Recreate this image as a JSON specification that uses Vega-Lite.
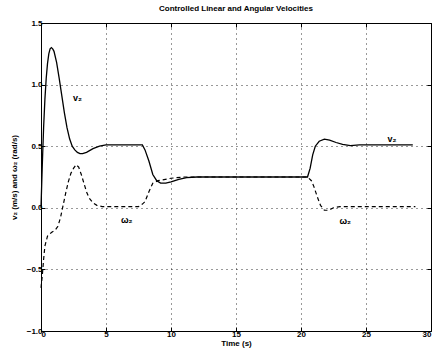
{
  "$schema": "https://vega.github.io/schema/vega-lite/v6.json",
  "width": 390,
  "height": 308,
  "autosize": {"type": "none"},
  "padding": {"left": 41, "top": 23, "right": 4, "bottom": 26},
  "background": "white",
  "title": {"text": "Controlled Linear and Angular Velocities", "fontSize": 8, "font": "Liberation Sans", "fontWeight": "bold", "color": "black", "offset": 6},
  "config": {
    "view": {"stroke": "black", "strokeWidth": 1},
    "axis": {"labelFont": "Liberation Sans", "labelFontSize": 8, "labelFontWeight": "bold", "labelColor": "black", "titleFont": "Liberation Sans", "titleFontSize": 8, "titleFontWeight": "bold", "titleColor": "black", "domain": false, "tickColor": "black", "tickSize": -4, "gridColor": "black", "gridDash": [1, 4], "gridOpacity": 0.8, "gridWidth": 1}
  },
  "resolve": {"axis": {"x": "independent", "y": "independent"}},
  "datasets": {
    "curves": [
      {"t": 0, "y": 0, "s": "v"}, {"t": 0.1, "y": 0.35, "s": "v"}, {"t": 0.2, "y": 0.65, "s": "v"}, {"t": 0.3, "y": 0.88, "s": "v"}, {"t": 0.4, "y": 1.05, "s": "v"}, {"t": 0.5, "y": 1.17, "s": "v"}, {"t": 0.6, "y": 1.25, "s": "v"}, {"t": 0.7, "y": 1.29, "s": "v"}, {"t": 0.8, "y": 1.3, "s": "v"}, {"t": 0.9, "y": 1.29, "s": "v"}, {"t": 1.0, "y": 1.27, "s": "v"}, {"t": 1.2, "y": 1.18, "s": "v"}, {"t": 1.4, "y": 1.05, "s": "v"}, {"t": 1.6, "y": 0.91, "s": "v"}, {"t": 1.8, "y": 0.77, "s": "v"}, {"t": 2.0, "y": 0.65, "s": "v"}, {"t": 2.2, "y": 0.56, "s": "v"}, {"t": 2.4, "y": 0.5, "s": "v"}, {"t": 2.6, "y": 0.47, "s": "v"}, {"t": 2.8, "y": 0.45, "s": "v"}, {"t": 3.0, "y": 0.44, "s": "v"}, {"t": 3.2, "y": 0.44, "s": "v"}, {"t": 3.5, "y": 0.45, "s": "v"}, {"t": 4.0, "y": 0.48, "s": "v"}, {"t": 4.5, "y": 0.5, "s": "v"}, {"t": 5, "y": 0.51, "s": "v"}, {"t": 6, "y": 0.51, "s": "v"}, {"t": 7, "y": 0.51, "s": "v"}, {"t": 7.8, "y": 0.51, "s": "v"}, {"t": 8.0, "y": 0.47, "s": "v"}, {"t": 8.3, "y": 0.38, "s": "v"}, {"t": 8.6, "y": 0.27, "s": "v"}, {"t": 8.9, "y": 0.22, "s": "v"}, {"t": 9.2, "y": 0.2, "s": "v"}, {"t": 9.6, "y": 0.2, "s": "v"}, {"t": 10, "y": 0.21, "s": "v"}, {"t": 10.6, "y": 0.23, "s": "v"}, {"t": 11.2, "y": 0.245, "s": "v"}, {"t": 12, "y": 0.25, "s": "v"}, {"t": 20.5, "y": 0.25, "s": "v"}, {"t": 20.7, "y": 0.32, "s": "v"}, {"t": 20.9, "y": 0.43, "s": "v"}, {"t": 21.1, "y": 0.5, "s": "v"}, {"t": 21.4, "y": 0.54, "s": "v"}, {"t": 21.8, "y": 0.557, "s": "v"}, {"t": 22.2, "y": 0.55, "s": "v"}, {"t": 22.7, "y": 0.53, "s": "v"}, {"t": 23.2, "y": 0.515, "s": "v"}, {"t": 23.8, "y": 0.505, "s": "v"}, {"t": 24.5, "y": 0.51, "s": "v"}, {"t": 28.6, "y": 0.51, "s": "v"},
      {"t": 0, "y": -0.65, "s": "w"}, {"t": 0.1, "y": -0.55, "s": "w"}, {"t": 0.2, "y": -0.42, "s": "w"}, {"t": 0.3, "y": -0.31, "s": "w"}, {"t": 0.5, "y": -0.23, "s": "w"}, {"t": 0.8, "y": -0.2, "s": "w"}, {"t": 1.1, "y": -0.18, "s": "w"}, {"t": 1.3, "y": -0.15, "s": "w"}, {"t": 1.5, "y": -0.08, "s": "w"}, {"t": 1.7, "y": 0.02, "s": "w"}, {"t": 1.9, "y": 0.12, "s": "w"}, {"t": 2.1, "y": 0.21, "s": "w"}, {"t": 2.3, "y": 0.28, "s": "w"}, {"t": 2.5, "y": 0.32, "s": "w"}, {"t": 2.7, "y": 0.35, "s": "w"}, {"t": 2.9, "y": 0.33, "s": "w"}, {"t": 3.1, "y": 0.27, "s": "w"}, {"t": 3.3, "y": 0.2, "s": "w"}, {"t": 3.5, "y": 0.13, "s": "w"}, {"t": 3.7, "y": 0.08, "s": "w"}, {"t": 4.0, "y": 0.04, "s": "w"}, {"t": 4.3, "y": 0.02, "s": "w"}, {"t": 4.7, "y": 0.01, "s": "w"}, {"t": 5.5, "y": 0.01, "s": "w"}, {"t": 7.5, "y": 0.01, "s": "w"}, {"t": 7.8, "y": 0.03, "s": "w"}, {"t": 8.0, "y": 0.05, "s": "w"}, {"t": 8.3, "y": 0.13, "s": "w"}, {"t": 8.6, "y": 0.2, "s": "w"}, {"t": 9.0, "y": 0.22, "s": "w"}, {"t": 10, "y": 0.24, "s": "w"}, {"t": 11, "y": 0.25, "s": "w"}, {"t": 20.5, "y": 0.25, "s": "w"}, {"t": 20.8, "y": 0.22, "s": "w"}, {"t": 21.0, "y": 0.17, "s": "w"}, {"t": 21.25, "y": 0.09, "s": "w"}, {"t": 21.5, "y": 0.02, "s": "w"}, {"t": 21.8, "y": -0.02, "s": "w"}, {"t": 22.1, "y": -0.02, "s": "w"}, {"t": 22.5, "y": 0.0, "s": "w"}, {"t": 23, "y": 0.01, "s": "w"}, {"t": 28.8, "y": 0.01, "s": "w"}
    ],
    "labels": [
      {"t": 2.8, "y": 0.89, "label": "v₂"},
      {"t": 27, "y": 0.56, "label": "v₂"},
      {"t": 6.6, "y": -0.1, "label": "ω₂"},
      {"t": 23.4, "y": -0.11, "label": "ω₂"}
    ]
  },
  "layer": [
    {
      "data": {"name": "curves"},
      "transform": [{"filter": "datum.s == 'v'"}],
      "mark": {"type": "line", "color": "black", "strokeWidth": 1.3},
      "encoding": {
        "x": {"field": "t", "type": "quantitative", "scale": {"domain": [0, 30], "nice": false}, "axis": {"title": "Time (s)", "values": [0, 5, 10, 15, 20, 25, 30], "grid": true, "labelPadding": 3, "titlePadding": 1, "orient": "bottom"}},
        "y": {"field": "y", "type": "quantitative", "scale": {"domain": [-1, 1.5], "nice": false}, "axis": {"title": "v₂ (m/s) and ω₂ (rad/s)", "values": [-1, -0.5, 0, 0.5, 1, 1.5], "grid": true, "labelPadding": 3, "titlePadding": 8, "orient": "left"}}
      }
    },
    {
      "data": {"name": "curves"},
      "transform": [{"filter": "datum.s == 'w'"}],
      "mark": {"type": "line", "color": "black", "strokeWidth": 1.2, "strokeDash": [4, 3]},
      "encoding": {
        "x": {"field": "t", "type": "quantitative", "axis": {"orient": "top", "values": [0, 5, 10, 15, 20, 25, 30], "labels": false, "title": null, "grid": false}},
        "y": {"field": "y", "type": "quantitative", "axis": {"orient": "right", "values": [-1, -0.5, 0, 0.5, 1, 1.5], "labels": false, "title": null, "grid": false}}
      }
    },
    {
      "data": {"name": "labels"},
      "mark": {"type": "text", "font": "Liberation Sans", "fontSize": 9, "fontWeight": "bold", "color": "black"},
      "encoding": {
        "x": {"field": "t", "type": "quantitative", "axis": null},
        "y": {"field": "y", "type": "quantitative", "axis": null},
        "text": {"field": "label"}
      }
    }
  ]
}
